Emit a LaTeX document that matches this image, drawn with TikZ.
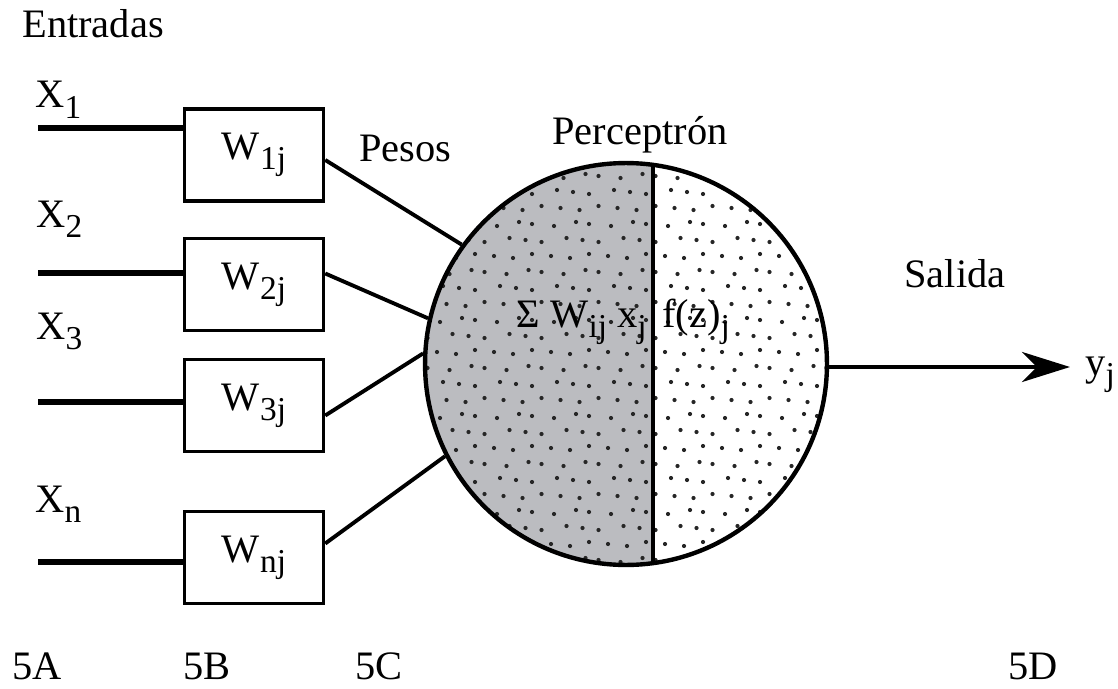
\documentclass[tikz,border=0pt]{standalone}
\usepackage{fontspec}
\setmainfont{Liberation Serif}
\usetikzlibrary{positioning, arrows.meta, calc}
\newcommand\lowidx[1]{\raisebox{-0.25em}{\fontsize{19}{20}\selectfont #1}}
\definecolor{percgray}{RGB}{187,188,192}

\begin{document}
\begin{tikzpicture}[
    x=0.02cm, y=-0.02cm,
    every node/.style={font=\fontsize{23}{28}\selectfont, inner sep=0pt},
    wbox/.style={rectangle, draw, line width=2pt, minimum width=2.78cm, minimum height=1.84cm},
    inline/.style={line width=3pt},
    wline/.style={line width=2.2pt}
]
\useasboundingbox (0,0) rectangle (1118,689);

\node[anchor=base west] (entr) at (22,38) {Entradas};
\node[anchor=base west] (x1) at (35,108) {X\lowidx{1}};
\node[anchor=base west] (x2) at (36,227) {X\lowidx{2}};
\node[anchor=base west] (x3) at (36,339) {X\lowidx{3}};
\node[anchor=base west] (xn) at (35,512) {X\lowidx{n}};

\node[wbox] (w1) at (254,155) {W\lowidx{1j}};
\node[wbox] (w2) at (254,284.5) {W\lowidx{2j}};
\node[wbox] (w3) at (254,405.5) {W\lowidx{3j}};
\node[wbox] (wn) at (254,557.5) {W\lowidx{nj}};

\coordinate (in1) at (38,128);
\coordinate (in2) at (38,273);
\coordinate (in3) at (38,402);
\coordinate (inn) at (38,562);
\draw[inline] (in1) -- (in1 -| w1.west);
\draw[inline] (in2) -- (in2 -| w2.west);
\draw[inline] (in3) -- (in3 -| w3.west);
\draw[inline] (inn) -- (inn -| wn.west);

\begin{scope}
\clip (626,364) circle (202);
\fill[percgray] (420,150) rectangle (653,580);
\foreach \j in {0,...,25}
  \foreach \i in {0,...,22}
    \fill[black!85] ({418+19*\i+9.5*mod(\j,2)+3*mod(\i*\j,3)},{158+16*\j+2*mod(\i+\j,3)}) circle (2.1);
\end{scope}
\node[circle, draw, line width=2.5pt, minimum size=8.04cm] (perc) at (626,364) {};
\draw[line width=2.8pt] (653,164) -- (653,564);

\draw[wline] ($(w1.east)+(0,5)$) -- (perc.144);
\draw[wline] ($(w2.east)+(0,-11)$) -- (perc.167);
\draw[wline] ($(w3.east)+(0,10)$) -- (perc.177);
\draw[wline] ($(wn.east)+(0,-14)$) -- (perc.207);

\node[anchor=base west] (pesos) at (359,162) {Pesos};
\node[anchor=base] (ptron) at (640,145) {Perceptrón};
\node[anchor=base east] (sum) at (647,327) {Σ W\lowidx{ij} x\lowidx{j}};
\node[anchor=base west] (fz) at (662,327) {f(z)\lowidx{j}};
\node[anchor=base] (sal) at (955,287) {Salida};

\node[anchor=base west] (yj) at (1085,375) {y\lowidx{j}};
\coordinate (outend) at (1070,367);
\draw[line width=2.8pt, -{Stealth[length=0.96cm, width=0.6cm, inset=0.3cm]}] (perc.east |- outend) -- (outend);

\node[anchor=base west] (la) at (12,679) {5A};
\node[anchor=base west] (lb) at (183,679) {5B};
\node[anchor=base west] (lc) at (355,679) {5C};
\node[anchor=base west] (ld) at (1008,679) {5D};
\end{tikzpicture}
\end{document}
